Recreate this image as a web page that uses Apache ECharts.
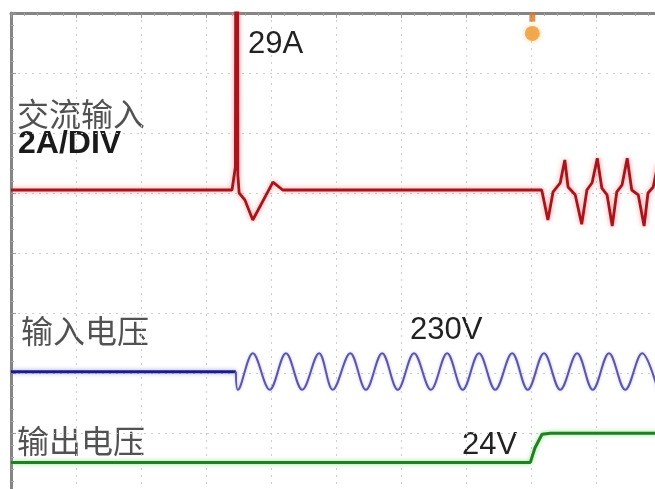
<!DOCTYPE html>
<html>
<head>
<meta charset="utf-8">
<script src="https://cdn.jsdelivr.net/npm/echarts@6/dist/echarts.min.js"></script>
<style>
html,body{margin:0;padding:0;background:#fff;}
#chart{width:655px;height:489px;}
</style>
</head>
<body>
<div id="chart"></div>
<script>
// Units: horizontal and vertical scope divisions
var xDivisions = [0, 10];
var yDivisions = [0, 8];

// AC input current (2A/DIV) – inrush spike of 29A then rectifier pulses
var acInputCurrent = [
  [0, 5.05], [3.40, 5.05], [3.452, 5.43], [3.475, 19.55], [3.49, 5.30], [3.51, 5.00], [3.60, 4.88],
  [3.72, 4.55], [4.03, 5.18], [4.18, 5.05], [8.165, 5.05], [8.26, 4.55], [8.34, 5.02],
  [8.45, 5.17], [8.52, 5.55], [8.57, 5.10], [8.68, 4.97], [8.78, 4.48], [8.86, 5.05],
  [8.94, 5.17], [9.02, 5.58], [9.09, 5.08], [9.17, 4.97], [9.25, 4.45], [9.32, 5.02],
  [9.40, 5.13], [9.48, 5.58], [9.55, 5.05], [9.65, 4.97], [9.74, 4.45], [9.80, 5.00],
  [9.88, 5.10], [9.95, 5.47], [10.0, 5.10]
];

// Input voltage – off, then 230V AC
var inputVoltageOff = [[0, 2.02], [3.46, 2.02]];
var inputVoltageAC = [
  [3.46, 2.02], [3.49, 1.72], [3.72, 2.33], [3.98, 1.72], [4.23, 2.33], [4.48, 1.72],
  [4.74, 2.33], [4.95, 1.72], [5.22, 2.33], [5.46, 1.72], [5.71, 2.33], [5.95, 1.72],
  [6.20, 2.33], [6.46, 1.72], [6.71, 2.33], [6.95, 1.72], [7.20, 2.33], [7.45, 1.72],
  [7.71, 2.33], [7.95, 1.72], [8.20, 2.33], [8.45, 1.72], [8.71, 2.33], [8.95, 1.72],
  [9.20, 2.33], [9.45, 1.72], [9.71, 2.33], [9.95, 1.72]
];

// Output voltage – 0 then 24V
var outputVoltage = [[0, 0.51], [7.99, 0.51], [8.06, 0.75], [8.17, 0.98], [8.30, 0.995], [10, 0.995]];

// Trigger position marker (head and stem)
var triggerHead = [[8.02, 7.66]];
var triggerStem = [[8.02, 7.93]];

// Text labels
var labelCurrentName = '交流输入';
var labelCurrentScale = '2A/DIV';
var labelPeak = '29A';
var labelInputName = '输入电压';
var labelInputValue = '230V';
var labelOutputName = '输出电压';
var labelOutputValue = '24V';

var chart = echarts.init(document.getElementById('chart'), null, {renderer: 'canvas'});

var axisCommon = {
  type: 'value',
  interval: 1,
  axisLabel: {show: false},
  axisLine: {show: true, onZero: false, lineStyle: {color: '#858585', width: 3}},
  axisTick: {show: true, inside: true, length: 5, lineStyle: {color: '#9a9a9a', width: 1}},
  minorTick: {show: true, splitNumber: 5, length: 3, lineStyle: {color: '#a8a8a8', width: 1}},
  splitLine: {show: true, lineStyle: {color: '#cccccc', width: 1, type: [2, 5]}}
};

function txt(text, x, y, font, color) {
  return {
    type: 'text', x: x, y: y, silent: true,
    style: {text: text, font: font, fill: color, textAlign: 'left', textVerticalAlign: 'middle', align: 'left', verticalAlign: 'middle'}
  };
}

var cjk = '"Noto Sans CJK SC", sans-serif';
var latin = '"Liberation Sans", Arial, sans-serif';

var option = {
  backgroundColor: '#ffffff',
  animation: false,
  grid: {left: 11, top: 13, width: 650, height: 480, containLabel: false, outerBoundsMode: 'none'},
  xAxis: Object.assign({}, axisCommon, {min: xDivisions[0], max: xDivisions[1], position: 'top'}),
  yAxis: Object.assign({}, axisCommon, {min: yDivisions[0], max: yDivisions[1], position: 'left'}),
  series: [
    {
      name: labelCurrentName, type: 'line', data: acInputCurrent, symbol: 'none', clip: true,
      lineStyle: {color: '#a8141c', width: 2.8, shadowColor: 'rgba(245,110,110,0.75)', shadowBlur: 5}
    },
    {
      name: labelInputName + '0', type: 'line', data: inputVoltageOff, symbol: 'none',
      lineStyle: {color: '#1c1c86', width: 3, shadowColor: 'rgba(110,110,240,0.7)', shadowBlur: 4}
    },
    {
      name: labelInputName, type: 'line', data: inputVoltageAC, symbol: 'none', smooth: 0.35,
      lineStyle: {color: '#5b55ad', width: 2, shadowColor: 'rgba(150,150,240,0.6)', shadowBlur: 3}
    },
    {
      name: labelOutputName, type: 'line', data: outputVoltage, symbol: 'none',
      lineStyle: {color: '#237f23', width: 3, shadowColor: 'rgba(110,220,110,0.8)', shadowBlur: 4}
    },
    {
      name: 'triggerStem', type: 'scatter', data: triggerStem, symbol: 'rect', symbolSize: [6, 9],
      itemStyle: {color: '#d9782a'}
    },
    {
      name: 'triggerHead', type: 'scatter', data: triggerHead, symbol: 'circle', symbolSize: 15,
      itemStyle: {color: '#ee9a35', shadowColor: 'rgba(255,190,90,0.7)', shadowBlur: 6}
    }
  ],
  graphic: [
    txt(labelPeak, 248, 44, '31px ' + latin, '#222'),
    txt(labelCurrentName, 17, 114, '32px ' + cjk, '#525252'),
    txt(labelCurrentScale, 18, 144, 'bold 32px ' + latin, '#1a1a1a'),
    txt(labelInputName, 21, 331, '32px ' + cjk, '#525252'),
    txt(labelInputValue, 410, 330, '31px ' + latin, '#222'),
    txt(labelOutputName, 17, 441, '32px ' + cjk, '#525252'),
    txt(labelOutputValue, 462, 445, '31px ' + latin, '#222')
  ]
};

chart.setOption(option);
</script>
</body>
</html>
